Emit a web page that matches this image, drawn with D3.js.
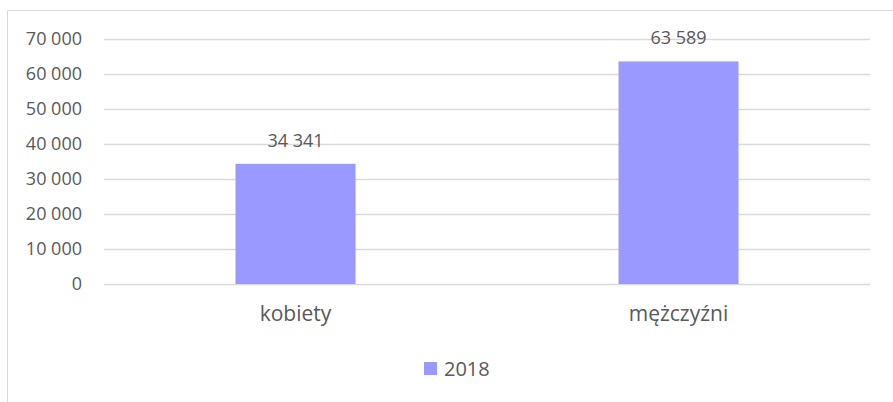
<!DOCTYPE html>
<html>
<head>
  <meta charset="utf-8">
  <script src="https://d3js.org/d3.v7.min.js"></script>
  <style>
    body { margin: 0; background: #fff; }
    text { font-family: "Open Sans", sans-serif; fill: #595959; }
  </style>
</head>
<body>
<script type="text/javascript">
  "use strict";

  // Data
  var categories = ["kobiety", "mężczyźni"];
  var values2018 = [34341, 63589];
  var seriesName = "2018";
  var yTicks = [0, 10000, 20000, 30000, 40000, 50000, 60000, 70000];

  var width = 893,
      height = 402;
  var plot = { left: 104, right: 870, top: 39, bottom: 284 };

  var barColor = "#9999ff",
      gridColor = "#d9d9d9";

  // thousands separated by a space, like the original
  var fmt = function(v) { return d3.format(",")(v).replace(/,/g, " "); };

  var svg = d3.select("body").append("svg")
              .attr("width", width)
              .attr("height", height);

  // chart frame (cut off at the right and bottom)
  svg.append("path")
     .attr("d", "M7.5," + height + "V10.5H" + width)
     .attr("fill", "none")
     .attr("stroke", gridColor)
     .attr("stroke-width", 1);

  var x = d3.scaleBand()
            .domain(categories)
            .range([plot.left, plot.right])
            .paddingInner(0.6867)
            .paddingOuter(0.3433);

  var y = d3.scaleLinear()
            .domain([0, 70000])
            .range([plot.bottom, plot.top]);

  // horizontal gridlines
  svg.append("g")
     .selectAll("line")
     .data(yTicks)
     .enter().append("line")
     .attr("x1", plot.left)
     .attr("x2", plot.right)
     .attr("y1", function(d) { return Math.round(y(d)) + 0.5; })
     .attr("y2", function(d) { return Math.round(y(d)) + 0.5; })
     .attr("stroke", gridColor)
     .attr("stroke-width", 1.3);

  // y axis labels
  svg.append("g")
     .selectAll("text")
     .data(yTicks)
     .enter().append("text")
     .attr("x", 82)
     .attr("y", function(d) { return y(d); })
     .attr("dy", "0.35em")
     .attr("text-anchor", "end")
     .style("font-size", "18px")
     .text(fmt);

  // bars
  svg.append("g")
     .selectAll("rect")
     .data(values2018)
     .enter().append("rect")
     .attr("x", function(d, i) { return x(categories[i]); })
     .attr("width", x.bandwidth())
     .attr("y", function(d) { return y(d); })
     .attr("height", function(d) { return y(0) - y(d); })
     .attr("fill", barColor);

  // value labels
  svg.append("g")
     .selectAll("text")
     .data(values2018)
     .enter().append("text")
     .attr("x", function(d, i) { return x(categories[i]) + x.bandwidth() / 2; })
     .attr("y", function(d) { return y(d) - 17; })
     .attr("text-anchor", "middle")
     .style("font-size", "18px")
     .text(fmt);

  // category labels
  svg.append("g")
     .selectAll("text")
     .data(categories)
     .enter().append("text")
     .attr("x", function(d) { return x(d) + x.bandwidth() / 2; })
     .attr("y", 321)
     .attr("text-anchor", "middle")
     .style("font-size", "21px")
     .text(function(d) { return d; });

  // legend
  var legend = svg.append("g").attr("transform", "translate(424,362)");
  legend.append("rect")
        .attr("width", 13)
        .attr("height", 13)
        .attr("fill", barColor);
  legend.append("text")
        .attr("x", 20)
        .attr("y", 14)
        .style("font-size", "20px")
        .text(seriesName);
</script>
</body>
</html>
